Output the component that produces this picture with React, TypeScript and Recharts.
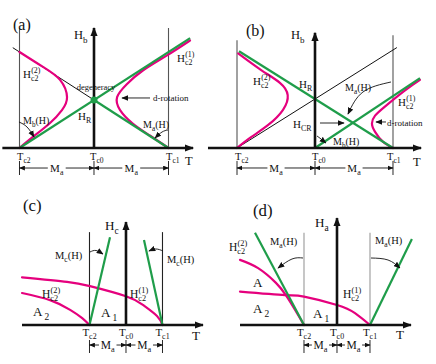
import { ComposedChart, Line, Scatter, XAxis, YAxis } from "recharts";

type P = { t: number; h: number };
type Lbl = {
  t: number;
  h: number;
  text: string;
  sub?: string;
  sup?: string;
  tail?: string;
  kind: string;
  anchor?: "start" | "middle" | "end";
};

const MAGENTA = "#e5007d";
const GREEN = "#1f9d4a";
const FONT = '"Liberation Serif", "Times New Roman", serif';

// ---------- panel (a) ----------
const A_T_AXIS: P[] = [{ t: -1.23, h: 0 }, { t: 1.33, h: 0 }];
const A_H_AXIS: P[] = [{ t: 0, h: 0 }, { t: 0, h: 2.5 }];
const A_GUIDES: P[][] = [
  [{ t: -1, h: 0 }, { t: -1, h: 2.5 }],
  [{ t: 1, h: 0 }, { t: 1, h: 2.5 }],
];
const A_GREEN_RISE: P[] = [{ t: -1, h: 0 }, { t: 1.29, h: 2.29 }];
const A_GREEN_FALL: P[] = [{ t: 1, h: 0 }, { t: 0, h: 1 }];
const A_BLACK: P[] = [{ t: 0, h: 1 }, { t: -1.09, h: 2.09 }];
const A_HC2_LEFT: P[] = [
  { t: -1, h: 2.0 }, { t: -0.685, h: 1.69 }, { t: -0.456, h: 1.42 }, { t: -0.362, h: 1.06 },
  { t: -0.43, h: 0.79 }, { t: -0.59, h: 0.52 }, { t: -0.82, h: 0.23 }, { t: -1, h: 0 },
];
const A_HC2_RIGHT: P[] = [
  { t: 1.289, h: 2.24 }, { t: 0.98, h: 1.93 }, { t: 0.66, h: 1.62 }, { t: 0.44, h: 1.33 },
  { t: 0.31, h: 1.06 }, { t: 0.35, h: 0.79 }, { t: 0.52, h: 0.51 }, { t: 0.75, h: 0.26 }, { t: 1, h: 0 },
];
const A_DEGEN: P[] = [{ t: 0, h: 1 }];
const A_ARROWS: P[][] = [
  [{ t: 0.752, h: 1.042 }, { t: 0.376, h: 1.042 }],
  [{ t: -1.007, h: 0.542 }, { t: -0.899, h: 0.4375 }, { t: -0.805, h: 0.229 }],
  [{ t: 0.993, h: 0.375 }, { t: 0.913, h: 0.333 }, { t: 0.819, h: 0.208 }],
];
const A_LABELS: Lbl[] = [
  { t: -1.087, h: 2.458, text: "(a)", kind: "panel" },
  { t: -0.268, h: 2.271, text: "H", sub: "b", kind: "axis" },
  { t: -0.953, h: 1.458, text: "H", sub: "c2", sup: "(2)", kind: "curve" },
  { t: 0.027, h: 1.208, text: "degeneracy", kind: "tiny", anchor: "middle" },
  { t: 0.792, h: 0.979, text: "d-rotation", kind: "small" },
  { t: -0.215, h: 0.583, text: "H", sub: "R", kind: "curve" },
  { t: -0.953, h: 0.5, text: "M", sub: "b", tail: "(H)", kind: "note" },
  { t: 0.658, h: 0.417, text: "M", sub: "a", tail: "(H)", kind: "note" },
  { t: 1.114, h: 1.792, text: "H", sub: "c2", sup: "(1)", kind: "curve" },
  { t: -1.034, h: -0.25, text: "T", sub: "c2", kind: "tick" },
  { t: -0.054, h: -0.25, text: "T", sub: "c0", kind: "tick" },
  { t: 0.966, h: -0.25, text: "T", sub: "c1", kind: "tick" },
  { t: 1.221, h: -0.354, text: "T", kind: "axis" },
  { t: -0.5, h: -0.5, text: "M", sub: "a", kind: "dim", anchor: "middle" },
  { t: 0.5, h: -0.5, text: "M", sub: "a", kind: "dim", anchor: "middle" },
];

// ---------- panel (b) ----------
const B_T_AXIS: P[] = [{ t: -1.372, h: 0 }, { t: 1.36, h: 0 }];
const B_H_AXIS: P[] = [{ t: 0, h: 0 }, { t: 0, h: 2.35 }];
const B_GUIDES: P[][] = [
  [{ t: -1, h: 0 }, { t: -1, h: 2.2 }],
  [{ t: 1, h: 0 }, { t: 1, h: 2.3 }],
];
const B_GREEN_FALL: P[] = [{ t: -0.974, h: 1.974 }, { t: 1, h: 0 }];
const B_GREEN_RISE: P[] = [{ t: 0, h: 0 }, { t: 1.346, h: 1.427 }];
const B_BLACK: P[] = [{ t: -1, h: 0 }, { t: 1.05, h: 2.05 }];
const B_HC2_LEFT: P[] = [
  { t: -0.985, h: 1.93 }, { t: -0.69, h: 1.59 }, { t: -0.45, h: 1.33 }, { t: -0.35, h: 1.08 },
  { t: -0.41, h: 0.78 }, { t: -0.6, h: 0.47 }, { t: -0.82, h: 0.22 }, { t: -1, h: 0 },
];
const B_HC2_RIGHT: P[] = [
  { t: 1.346, h: 1.39 }, { t: 1.15, h: 1.17 }, { t: 0.9, h: 0.85 }, { t: 0.77, h: 0.66 },
  { t: 0.73, h: 0.5 }, { t: 0.77, h: 0.33 }, { t: 0.87, h: 0.13 }, { t: 1, h: 0 },
];
const B_ARROWS: P[][] = [
  [{ t: 0.974, h: 1.347 }, { t: 0.615, h: 1.143 }, { t: 0.423, h: 0.694 }],
  [{ t: 0.064, h: 0.51 }, { t: 0.372, h: 0.51 }],
  [{ t: 0.91, h: 0.531 }, { t: 0.782, h: 0.531 }],
  [{ t: 0.026, h: 0.245 }, { t: 0.077, h: 0.184 }, { t: 0.141, h: 0.102 }],
];
const B_LABELS: Lbl[] = [
  { t: -0.885, h: 2.286, text: "(b)", kind: "panel" },
  { t: -0.308, h: 2.224, text: "H", sub: "b", kind: "axis" },
  { t: -0.795, h: 1.286, text: "H", sub: "c2", sup: "(2)", kind: "curve" },
  { t: -0.205, h: 1.224, text: "H", sub: "R", kind: "curve" },
  { t: 0.385, h: 1.163, text: "M", sub: "a", tail: "(H)", kind: "note" },
  { t: -0.282, h: 0.408, text: "H", sub: "CR", kind: "curve" },
  { t: 0.923, h: 0.449, text: "d-rotation", kind: "small" },
  { t: 0.231, h: 0.061, text: "M", sub: "b", tail: "(H)", kind: "note" },
  { t: 1.064, h: 0.857, text: "H", sub: "c2", sup: "(1)", kind: "curve" },
  { t: -1.026, h: -0.245, text: "T", sub: "c2", kind: "tick" },
  { t: -0.038, h: -0.245, text: "T", sub: "c0", kind: "tick" },
  { t: 0.923, h: -0.245, text: "T", sub: "c1", kind: "tick" },
  { t: 1.256, h: -0.367, text: "T", kind: "axis" },
  { t: -0.5, h: -0.49, text: "M", sub: "a", kind: "dim", anchor: "middle" },
  { t: 0.5, h: -0.49, text: "M", sub: "a", kind: "dim", anchor: "middle" },
];

// ---------- panel (c) ----------
const C_T_AXIS: P[] = [{ t: -2.849, h: 0 }, { t: 2.11, h: 0 }];
const C_H_AXIS: P[] = [{ t: 0, h: 0 }, { t: 0, h: 2.86 }];
const C_GUIDES: P[][] = [
  [{ t: -1, h: 0 }, { t: -1, h: 2.58 }],
  [{ t: 1, h: 0 }, { t: 1, h: 2.58 }],
];
const C_GREEN_LEFT: P[] = [{ t: -1, h: 0 }, { t: -0.438, h: 2.44 }];
const C_GREEN_RIGHT: P[] = [{ t: 1, h: 0 }, { t: 0.493, h: 2.36 }];
const C_HC2_ONE: P[] = [
  { t: -2.849, h: 1.325 }, { t: -1.616, h: 1.2 }, { t: -0.986, h: 1.08 }, { t: 0, h: 0.8 },
  { t: 0.466, h: 0.556 }, { t: 0.849, h: 0.25 }, { t: 1, h: 0 },
];
const C_HC2_TWO: P[] = [
  { t: -2.849, h: 0.889 }, { t: -2.08, h: 0.69 }, { t: -1.53, h: 0.42 }, { t: -1.2, h: 0.19 }, { t: -1, h: 0 },
];
const C_ARROWS: P[][] = [
  [{ t: -0.986, h: 2.028 }, { t: -0.822, h: 2.07 }, { t: -0.63, h: 1.972 }],
  [{ t: 1.014, h: 2.056 }, { t: 0.822, h: 2.111 }, { t: 0.63, h: 2.056 }],
];
const C_LABELS: Lbl[] = [
  { t: -2.822, h: 3.167, text: "(c)", kind: "panel" },
  { t: -0.575, h: 2.639, text: "H", sub: "c", kind: "axis" },
  { t: -1.945, h: 1.833, text: "M", sub: "c", tail: "(H)", kind: "note" },
  { t: 1.123, h: 1.722, text: "M", sub: "c", tail: "(H)", kind: "note" },
  { t: -2.301, h: 0.75, text: "H", sub: "c2", sup: "(2)", kind: "curve" },
  { t: -2.548, h: 0.25, text: "A", sub: "2", kind: "region" },
  { t: -0.685, h: 0.222, text: "A", sub: "1", kind: "region" },
  { t: 0.11, h: 0.75, text: "H", sub: "c2", sup: "(1)", kind: "curve" },
  { t: -1, h: -0.306, text: "T", sub: "c2", kind: "tick", anchor: "middle" },
  { t: 0, h: -0.306, text: "T", sub: "c0", kind: "tick", anchor: "middle" },
  { t: 1, h: -0.306, text: "T", sub: "c1", kind: "tick", anchor: "middle" },
  { t: 1.808, h: -0.417, text: "T", kind: "axis" },
  { t: -0.5, h: -0.667, text: "M", sub: "a", kind: "dim", anchor: "middle" },
  { t: 0.5, h: -0.667, text: "M", sub: "a", kind: "dim", anchor: "middle" },
];

// ---------- panel (d) ----------
const D_T_AXIS: P[] = [{ t: -2.939, h: 0 }, { t: 2.242, h: 0 }];
const D_H_AXIS: P[] = [{ t: 0, h: 0 }, { t: 0, h: 2.97 }];
const D_GUIDES: P[][] = [
  [{ t: -1, h: 0 }, { t: -1, h: 2.56 }],
  [{ t: 1, h: 0 }, { t: 1, h: 2.56 }],
];
const D_GREEN_LEFT: P[] = [{ t: -1, h: 0 }, { t: -2.485, h: 2.56 }];
const D_GREEN_RIGHT: P[] = [{ t: 1, h: 0 }, { t: 2.27, h: 2.39 }];
const D_HC2_TWO: P[] = [
  { t: -2.94, h: 1.81 }, { t: -2.39, h: 1.58 }, { t: -1.85, h: 1.17 }, { t: -1.55, h: 0.83 },
  { t: -1.27, h: 0.42 }, { t: -1, h: 0 },
];
const D_HC2_ONE: P[] = [
  { t: -2.94, h: 0.925 }, { t: -1.58, h: 0.83 }, { t: -1, h: 0.79 }, { t: 0, h: 0.556 },
  { t: 0.545, h: 0.33 }, { t: 1, h: 0 },
];
const D_ARROWS: P[][] = [
  [{ t: -1.03, h: 1.861 }, { t: -1.364, h: 1.833 }, { t: -1.788, h: 1.583 }],
  [{ t: 1.03, h: 1.861 }, { t: 1.545, h: 1.806 }, { t: 1.909, h: 1.583 }],
];
const D_LABELS: Lbl[] = [
  { t: -2.545, h: 3.028, text: "(d)", kind: "panel" },
  { t: -0.667, h: 2.722, text: "H", sub: "a", kind: "axis" },
  { t: -3.273, h: 2.056, text: "H", sub: "c2", sup: "(2)", kind: "curve" },
  { t: -2.03, h: 2.222, text: "M", sub: "a", tail: "(H)", kind: "note" },
  { t: 1.152, h: 2.25, text: "M", sub: "a", tail: "(H)", kind: "note" },
  { t: -2.545, h: 1.056, text: "A", kind: "region" },
  { t: -2.545, h: 0.333, text: "A", sub: "2", kind: "region" },
  { t: -0.727, h: 0.194, text: "A", sub: "1", kind: "region" },
  { t: 0.182, h: 0.75, text: "H", sub: "c2", sup: "(1)", kind: "curve" },
  { t: -1, h: -0.306, text: "T", sub: "c2", kind: "tick", anchor: "middle" },
  { t: 0, h: -0.306, text: "T", sub: "c0", kind: "tick", anchor: "middle" },
  { t: 1, h: -0.306, text: "T", sub: "c1", kind: "tick", anchor: "middle" },
  { t: 1.788, h: -0.389, text: "T", kind: "axis" },
  { t: -0.5, h: -0.667, text: "M", sub: "a", kind: "dim", anchor: "middle" },
  { t: 0.5, h: -0.667, text: "M", sub: "a", kind: "dim", anchor: "middle" },
];

const SIZE: Record<string, number> = {
  panel: 16,
  axis: 12.5,
  curve: 11,
  note: 10,
  small: 9,
  tiny: 8.5,
  tick: 10.5,
  region: 12.5,
  dim: 11,
};

interface PanelCfg {
  left: number;
  top: number;
  width: number;
  height: number;
  xDomain: [number, number];
  yDomain: [number, number];
  scale: number;
  guideColor: string;
  tAxis: P[];
  hAxis: P[];
  guides: P[][];
  black: P[][];
  magenta: P[][];
  green: P[][];
  dots: P[];
  arrows: P[][];
  labels: Lbl[];
  dim: { h: number; top: number; bottom: number; gap: number };
}

const panels: PanelCfg[] = [
  {
    left: 0, top: 0, width: 218, height: 182,
    xDomain: [-1.2617, 1.6644], yDomain: [-0.7083, 3.0833], scale: 1, guideColor: "#555",
    tAxis: A_T_AXIS, hAxis: A_H_AXIS, guides: A_GUIDES, black: [A_BLACK],
    magenta: [A_HC2_LEFT, A_HC2_RIGHT], green: [A_GREEN_RISE, A_GREEN_FALL], dots: A_DEGEN,
    arrows: A_ARROWS, labels: A_LABELS, dim: { h: -0.417, top: -0.27, bottom: -0.5625, gap: 0.12 },
  },
  {
    left: 205, top: 0, width: 231, height: 182,
    xDomain: [-1.4103, 1.5513], yDomain: [-0.6939, 3.0204], scale: 1, guideColor: "#555",
    tAxis: B_T_AXIS, hAxis: B_H_AXIS, guides: B_GUIDES, black: [B_BLACK],
    magenta: [B_HC2_LEFT, B_HC2_RIGHT], green: [B_GREEN_FALL, B_GREEN_RISE], dots: [],
    arrows: B_ARROWS, labels: B_LABELS, dim: { h: -0.408, top: -0.265, bottom: -0.551, gap: 0.11 },
  },
  {
    left: 0, top: 182, width: 218, height: 182,
    xDomain: [-3.452, 2.521], yDomain: [-1.0833, 3.9722], scale: 1.05, guideColor: "#222",
    tAxis: C_T_AXIS, hAxis: C_H_AXIS, guides: C_GUIDES, black: [],
    magenta: [C_HC2_ONE, C_HC2_TWO], green: [C_GREEN_LEFT, C_GREEN_RIGHT], dots: [],
    arrows: C_ARROWS, labels: C_LABELS, dim: { h: -0.556, top: -0.417, bottom: -0.778, gap: 0.24 },
  },
  {
    left: 218, top: 182, width: 218, height: 182,
    xDomain: [-3.606, 3.0], yDomain: [-1.0833, 3.9722], scale: 1.05, guideColor: "#999",
    tAxis: D_T_AXIS, hAxis: D_H_AXIS, guides: D_GUIDES, black: [],
    magenta: [D_HC2_TWO, D_HC2_ONE], green: [D_GREEN_LEFT, D_GREEN_RIGHT], dots: [],
    arrows: D_ARROWS, labels: D_LABELS, dim: { h: -0.556, top: -0.417, bottom: -0.778, gap: 0.26 },
  },
];

const makeLabel = (scale: number) => (props: any) => {
  const { cx, cy, payload } = props;
  const l = payload as Lbl;
  const fs = SIZE[l.kind] * scale;
  const sfs = fs * 0.72;
  const dy = fs * 0.3;
  return (
    <g>
      <text x={cx} y={cy} fontSize={fs} fontFamily={FONT} textAnchor={l.anchor ?? "start"} fill="#111">
        <tspan>{l.text}</tspan>
        {l.sub && (
          <tspan dx={l.kind === "region" ? 2 : 0} dy={dy} fontSize={sfs}>
            {l.sub}
          </tspan>
        )}
        {l.tail && (
          <tspan dy={-dy} fontSize={fs}>
            {l.tail}
          </tspan>
        )}
      </text>
      {l.sup && (
        <text x={cx + fs * 0.74} y={cy - fs * 0.42} fontSize={sfs} fontFamily={FONT} fill="#111">
          {l.sup}
        </text>
      )}
    </g>
  );
};

const dot = (props: any) => <circle cx={props.cx} cy={props.cy} r={3.5} fill={GREEN} />;

function seg(key: string, data: P[], stroke: string, width: number, extra: any = {}) {
  return (
    <Line
      key={key}
      data={data}
      dataKey="h"
      type="linear"
      stroke={stroke}
      strokeWidth={width}
      dot={false}
      activeDot={false}
      legendType="none"
      isAnimationActive={false}
      {...extra}
    />
  );
}

function Panel({ cfg }: { cfg: PanelCfg }) {
  const d = cfg.dim;
  const spans: [number, number][] = [[-1, 0], [0, 1]];
  return (
    <div style={{ position: "absolute", left: cfg.left, top: cfg.top }}>
      <ComposedChart width={cfg.width} height={cfg.height} margin={{ top: 0, right: 0, bottom: 0, left: 0 }}>
        <XAxis type="number" dataKey="t" domain={cfg.xDomain} allowDataOverflow hide />
        <YAxis type="number" dataKey="h" domain={cfg.yDomain} allowDataOverflow hide />
        {cfg.guides.map((g, i) => seg(`g${i}`, g, cfg.guideColor, 1.1))}
        {cfg.black.map((g, i) => seg(`k${i}`, g, "#111", 1))}
        {cfg.magenta.map((g, i) =>
          seg(`m${i}`, g, MAGENTA, 2.2, { type: "natural", strokeLinecap: "round" })
        )}
        {cfg.green.map((g, i) => seg(`e${i}`, g, GREEN, 2.2))}
        {seg("ax", cfg.tAxis, "#111", 2.4, { markerEnd: "url(#arrAxis)" })}
        {seg("ay", cfg.hAxis, "#111", 2.6, { markerEnd: "url(#arrAxis)" })}
        {cfg.arrows.map((a, i) =>
          seg(`a${i}`, a, "#111", 0.9, { type: a.length > 2 ? "natural" : "linear", markerEnd: "url(#arrNote)" })
        )}
        {[-1, 0, 1].map((t) =>
          seg(`dt${t}`, [{ t, h: d.top }, { t, h: d.bottom }], "#111", 0.9)
        )}
        {spans.map(([s, e], i) => {
          const mid = (s + e) / 2;
          return [
            seg(`dl${i}`, [{ t: s, h: d.h }, { t: mid - d.gap, h: d.h }], "#111", 0.9, {
              markerStart: "url(#arrDim)",
            }),
            seg(`dr${i}`, [{ t: mid + d.gap, h: d.h }, { t: e, h: d.h }], "#111", 0.9, {
              markerEnd: "url(#arrDim)",
            }),
          ];
        })}
        {cfg.dots.length > 0 && (
          <Scatter data={cfg.dots} shape={dot} isAnimationActive={false} legendType="none" />
        )}
        <Scatter data={cfg.labels} shape={makeLabel(cfg.scale)} isAnimationActive={false} legendType="none" />
      </ComposedChart>
    </div>
  );
}

export default function App() {
  return (
    <div style={{ position: "absolute", left: 0, top: 0, width: 436, height: 364, background: "#fff" }}>
      <svg width={0} height={0} style={{ position: "absolute" }}>
        <defs>
          <marker id="arrAxis" viewBox="0 0 10 8" refX={9} refY={4} markerWidth={9} markerHeight={8}
            markerUnits="userSpaceOnUse" orient="auto-start-reverse">
            <path d="M0,0 L10,4 L0,8 z" fill="#111" />
          </marker>
          <marker id="arrNote" viewBox="0 0 10 8" refX={9} refY={4} markerWidth={7} markerHeight={6}
            markerUnits="userSpaceOnUse" orient="auto-start-reverse">
            <path d="M0,0 L10,4 L0,8 z" fill="#111" />
          </marker>
          <marker id="arrDim" viewBox="0 0 10 8" refX={9} refY={4} markerWidth={6} markerHeight={5}
            markerUnits="userSpaceOnUse" orient="auto-start-reverse">
            <path d="M0,0 L10,4 L0,8 z" fill="#111" />
          </marker>
        </defs>
      </svg>
      {panels.map((p, i) => (
        <Panel key={i} cfg={p} />
      ))}
    </div>
  );
}
